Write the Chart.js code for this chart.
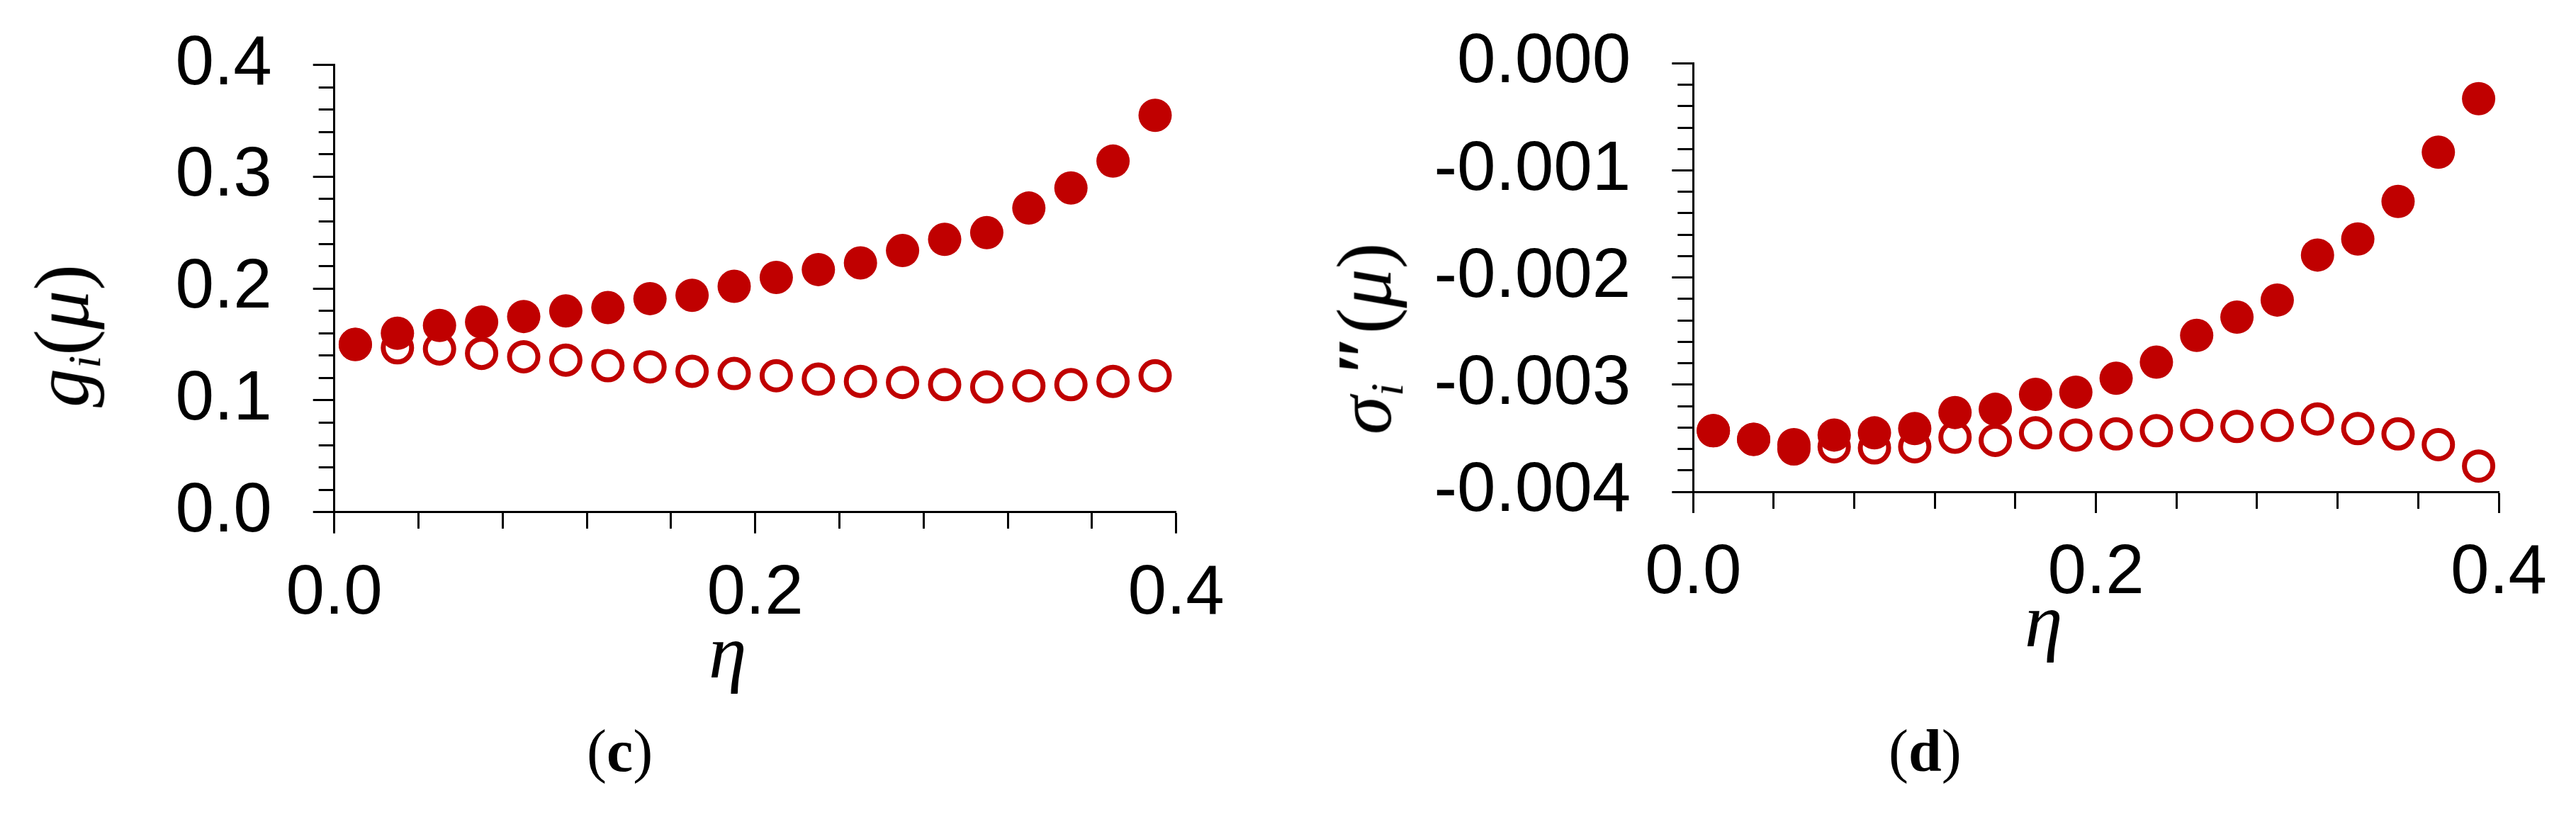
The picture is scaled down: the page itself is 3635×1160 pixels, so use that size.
<!DOCTYPE html>
<html>
<head>
<meta charset="utf-8">
<script src="https://cdn.jsdelivr.net/npm/chart.js@4"></script>
<style>
  body { margin: 0; background: #fff; }
  #page { position: relative; width: 3635px; height: 1160px; overflow: hidden; background: #fff; }
  canvas { position: absolute; top: 0; }
  .lbl { position: absolute; font-family: "Liberation Serif", "Times New Roman", serif; color: #000; line-height: 1; white-space: nowrap; }
  .it { font-style: italic; }
  .ytitle { transform: translate(-50%, -50%) rotate(-90deg); }
  sub { font-size: 60%; vertical-align: -0.25em; }
</style>
</head>
<body>
<div id="page">
  <canvas id="chartC" width="1780" height="1160" style="left:0px"></canvas>
  <canvas id="chartD" width="1835" height="1160" style="left:1800px"></canvas>

  <div class="lbl ytitle" style="left:92px; top:474px; font-size:110px;"><span class="it">g<sub>i</sub></span>(<span class="it">μ</span>)</div>
  <div class="lbl it" style="left:1000px; top:866px; font-size:108px;">η</div>
  <div class="lbl" style="left:828px; top:1018px; font-size:84px;">(<b>c</b>)</div>

  <div class="lbl ytitle" style="left:1930px; top:478px; font-size:110px;"><span class="it">σ<sub>i</sub></span><span style="font-weight:bold; margin-left:0.08em;">″</span>(<span class="it">μ</span>)</div>
  <div class="lbl it" style="left:2857px; top:822px; font-size:108px;">η</div>
  <div class="lbl" style="left:2665px; top:1018px; font-size:84px;">(<b>d</b>)</div>
</div>

<script>
// eta values (x) shared by both panels
const etaValues = [0.01, 0.03, 0.05, 0.07, 0.09, 0.11, 0.13, 0.15, 0.17, 0.19,
                   0.21, 0.23, 0.25, 0.27, 0.29, 0.31, 0.33, 0.35, 0.37, 0.39];

// panel (c): g_i(mu)
const gFilled = [0.150, 0.160, 0.167, 0.170, 0.175, 0.180, 0.183, 0.191, 0.194, 0.202,
                 0.210, 0.217, 0.223, 0.234, 0.244, 0.250, 0.272, 0.290, 0.314, 0.355];
const gOpen   = [0.150, 0.147, 0.146, 0.142, 0.139, 0.136, 0.131, 0.130, 0.126, 0.124,
                 0.122, 0.119, 0.117, 0.116, 0.114, 0.112, 0.113, 0.114, 0.117, 0.122];

// panel (d): sigma_i''(mu)
const sigmaFilled = [-0.00343, -0.00351, -0.00356, -0.00347, -0.00345, -0.00341, -0.00326, -0.00323, -0.00309, -0.00307,
                     -0.00294, -0.00279, -0.00254, -0.00237, -0.00221, -0.00179, -0.00164, -0.00129, -0.00083, -0.00033];
const sigmaOpen   = [-0.00343, -0.00351, -0.00360, -0.00358, -0.00359, -0.00358, -0.00349, -0.00352, -0.00345, -0.00347,
                     -0.00346, -0.00343, -0.00338, -0.00339, -0.00338, -0.00332, -0.00341, -0.00346, -0.00356, -0.00376];

// labelled (major) ticks
const etaTickValues = [0, 0.2, 0.4];
const etaTickLabels = ["0.0", "0.2", "0.4"];
const gTickValues = [0, 0.1, 0.2, 0.3, 0.4];
const gTickLabels = ["0.0", "0.1", "0.2", "0.3", "0.4"];
const sigmaTickValues = [-0.004, -0.003, -0.002, -0.001, 0];
const sigmaTickLabels = ["-0.004", "-0.003", "-0.002", "-0.001", "0.000"];

const RED = "#C00000";
const TICK_FONT = { family: "Liberation Sans, Arial, sans-serif", size: 98 };

function majorIndex(v, list, step) {
    return list.findIndex(m => Math.abs(m - v) < step / 100);
}

function toPoints(xs, ys) {
    return xs.map((x, i) => ({ x: x, y: ys[i] }));
}

function makePanel(id, filled, open, y, pad, yWidth) {
    const xStep = 0.04;
    new Chart(document.getElementById(id), {
        type: "scatter",
        data: {
            datasets: [
                {
                    label: "filled",
                    data: toPoints(etaValues, filled),
                    pointRadius: 23.5,
                    pointBorderWidth: 0,
                    pointBackgroundColor: RED,
                    pointBorderColor: RED,
                    order: 0
                },
                {
                    label: "open",
                    data: toPoints(etaValues, open),
                    pointRadius: 20,
                    pointBorderWidth: 7,
                    pointBackgroundColor: "rgba(255,255,255,0)",
                    pointBorderColor: RED,
                    order: 1
                }
            ]
        },
        options: {
            responsive: false,
            animation: false,
            clip: false,
            layout: { padding: pad },
            plugins: { legend: { display: false }, tooltip: { enabled: false } },
            scales: {
                x: {
                    type: "linear",
                    min: 0,
                    max: 0.4,
                    // fixed axis band, no extra label padding so the plot area stays where it is
                    afterFit: s => { s.height = 200; s.paddingLeft = 0; s.paddingRight = 0; },
                    border: { display: true, color: "#000", width: 3 },
                    grid: {
                        drawOnChartArea: false,
                        tickLength: 30,
                        tickWidth: 3,
                        tickColor: "#000",
                        tickBorderDash: ctx => majorIndex(ctx.tick.value, etaTickValues, xStep) >= 0 ? [] : [22, 100]
                    },
                    ticks: {
                        stepSize: xStep,
                        autoSkip: false,
                        maxRotation: 0,
                        padding: 27,
                        color: "#000",
                        font: TICK_FONT,
                        callback: v => {
                            const k = majorIndex(v, etaTickValues, xStep);
                            return k >= 0 ? etaTickLabels[k] : "";
                        }
                    }
                },
                y: {
                    type: "linear",
                    min: y.min,
                    max: y.max,
                    afterFit: s => { s.width = yWidth; s.paddingTop = 0; s.paddingBottom = 0; },
                    border: { display: true, color: "#000", width: 3 },
                    grid: {
                        drawOnChartArea: false,
                        tickLength: 30,
                        tickWidth: 3,
                        tickColor: "#000",
                        tickBorderDash: ctx => majorIndex(ctx.tick.value, y.majors, y.step) >= 0 ? [] : [0, 8, 22, 100]
                    },
                    ticks: {
                        stepSize: y.step,
                        autoSkip: false,
                        padding: 58,
                        color: "#000",
                        font: TICK_FONT,
                        callback: v => {
                            const k = majorIndex(v, y.majors, y.step);
                            return k >= 0 ? y.labels[k] : "";
                        }
                    }
                }
            }
        }
    });
}

makePanel("chartC", gFilled, gOpen,
    { min: 0, max: 0.4, step: 0.02, majors: gTickValues, labels: gTickLabels },
    { left: 171.7, right: 120.3, top: 91.7, bottom: 237.3 }, 300);

makePanel("chartD", sigmaFilled, sigmaOpen,
    { min: -0.004, max: 0, step: 0.0002, majors: sigmaTickValues, labels: sigmaTickLabels },
    { left: 189.3, right: 109, top: 89.3, bottom: 266 }, 400);
</script>
</body>
</html>
